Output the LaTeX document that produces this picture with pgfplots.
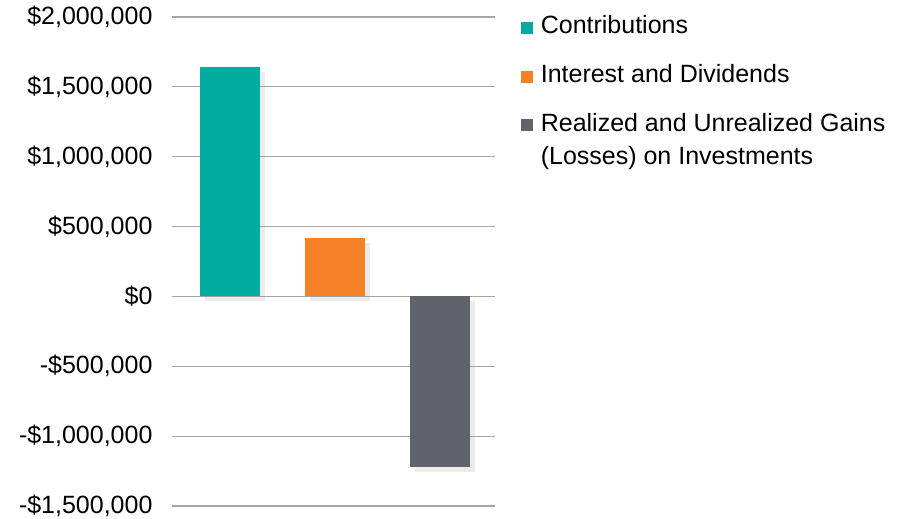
\documentclass[border=0pt]{standalone}
\usepackage{pgfplots}
\pgfplotsset{compat=1.18}
\usepackage{fontspec}
\setmainfont{Liberation Sans}
\usetikzlibrary{shadows}
\definecolor{cteal}{RGB}{0,172,160}
\definecolor{corange}{RGB}{245,130,40}
\definecolor{cgray}{RGB}{96,99,107}
\definecolor{cgrid}{RGB}{166,166,166}
\begin{document}
\begin{tikzpicture}
\begin{axis}[
  scale only axis,
  width=323pt, height=489pt,
  xmin=-0.55, xmax=2.52,
  ymin=-1500000, ymax=2000000,
  axis x line=none,
  axis y line*=left,
  y axis line style={draw=none},
  scaled y ticks=false,
  ytick={-1500000,-1000000,-500000,0,500000,1000000,1500000,2000000},
  yticklabels={-\$1{,}500{,}000,-\$1{,}000{,}000,-\$500{,}000,\$0,\$500{,}000,\$1{,}000{,}000,\$1{,}500{,}000,\$2{,}000{,}000},
  yticklabel style={font=\fontsize{25}{30}\selectfont, anchor=east, xshift=-16pt},
  major tick length=0pt,
  ymajorgrids,
  grid style={cgrid, line width=1.2pt},
  legend style={draw=none, fill=none, at={(1.07,1.011)}, anchor=north west,
    font=\fontsize{25}{33}\selectfont, row sep=25pt,
    cells={anchor=base west},
    nodes={inner sep=2pt, inner xsep=8pt}},
  legend image code/.code={\fill[#1] (0pt,0pt) rectangle (12pt,12pt);},
  shadowbar/.style={ybar, bar width=60pt, bar shift=0pt, draw=none, forget plot,
    drop shadow={shadow xshift=5pt, shadow yshift=-5pt, opacity=0.15}},
]
\addplot[shadowbar, fill=cteal] coordinates {(0,1640000)};
\addplot[shadowbar, fill=corange] coordinates {(1,415000)};
\addplot[shadowbar, fill=cgray] coordinates {(2,-1220000)};
\addlegendimage{fill=cteal, draw=none}
\addlegendentry{Contributions}
\addlegendimage{fill=corange, draw=none}
\addlegendentry{Interest and Dividends}
\addlegendimage{fill=cgray, draw=none}
\addlegendentry{\vtop{\hbox{Realized and Unrealized Gains}\hbox{(Losses) on Investments}}}
\coordinate (bl) at (rel axis cs:0,0);
\end{axis}
\pgfresetboundingbox
\path[use as bounding box] ([shift={(-172pt,-13pt)}]bl) rectangle ([shift={(730pt,506pt)}]bl);
\end{tikzpicture}
\end{document}
